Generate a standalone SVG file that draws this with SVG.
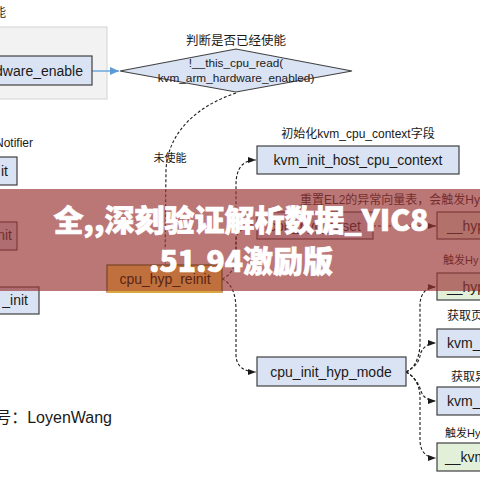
<svg xmlns="http://www.w3.org/2000/svg" width="480" height="480" viewBox="0 0 480 480">
<style>
.bx{fill:#dae3f3;stroke:#404040;stroke-width:1.2}
.gn{fill:#e2f0d9;stroke:#404040;stroke-width:1.2}
.t{font-family:"Liberation Sans","Noto Sans CJK SC",sans-serif;fill:#1a1a1a}
.n14{font-size:14px}
.lb{font-family:"Liberation Sans","Noto Sans CJK SC",sans-serif;fill:#1a1a1a;font-size:12px}
.dc{fill:none;stroke:#1a1a1a;stroke-width:1.1;stroke-dasharray:3 2}
.bn{font-family:"Noto Sans CJK SC",sans-serif;font-weight:900;font-size:30px;fill:#ffffff;stroke:#ffffff;stroke-width:0.7}
</style>
<defs>
<marker id="ah" viewBox="0 0 8 6" refX="8" refY="3" markerWidth="8" markerHeight="6" markerUnits="userSpaceOnUse" orient="auto">
<path d="M0,0 L8,3 L0,6 z" fill="#1a1a1a"/>
</marker>
<marker id="ab" viewBox="0 0 9 8" refX="9" refY="4" markerWidth="9" markerHeight="8" markerUnits="userSpaceOnUse" orient="auto">
<path d="M0,0 L9,4 L0,8 z" fill="#5b9bd5"/>
</marker>
</defs>
<rect width="480" height="480" fill="#ffffff"/>

<g id="container">
<rect x="-5" y="27" width="112" height="72" fill="#f2f2f2" stroke="#d9d9d9" stroke-width="1.2"/>
</g>
<text class="lb" x="6" y="17" text-anchor="end">能</text>

<g id="connectors">
<path d="M92,71 L119,71" stroke="#5b9bd5" stroke-width="1.3" fill="none" marker-end="url(#ab)"/>
<path class="dc" d="M236,93 C200,105 168,130 166,170 L165,264" marker-end="url(#ah)"/>
<path class="dc" d="M222,279 C232,275 236,265 236,250 L236,185 C236,168 243,160 256,160" marker-end="url(#ah)"/>
<path class="dc" d="M236,250 L236,240 C236,232 244,226 256,226" marker-end="url(#ah)"/>
<path class="dc" d="M222,279 C232,283 236,295 236,310 L236,355 C236,366 244,372 256,372" marker-end="url(#ah)"/>
<path class="dc" d="M373,226 L436,226" marker-end="url(#ah)"/>
<path class="dc" d="M406,372 C414,368 419,360 420,345 L420,305 C420,294 426,287 436,287" marker-end="url(#ah)"/>
<path class="dc" d="M406,372 C414,368 419,362 420,356 C421,349 427,343 436,343" marker-end="url(#ah)"/>
<path class="dc" d="M406,372 C414,376 419,384 421,391 C423,397 428,401 436,401" marker-end="url(#ah)"/>
<path class="dc" d="M406,372 C414,376 419,384 420,395 L420,440 C420,451 426,458 436,458" marker-end="url(#ah)"/>
</g>

<g id="n_hw_enable">
<rect class="bx" x="-5" y="56" width="97" height="29"/>
<text class="t n14" x="83" y="76" text-anchor="end">dware_enable</text>
</g>

<g id="n_diamond">
<text class="lb" x="236" y="45" text-anchor="middle" style="font-size:12.5px">判断是否已经使能</text>
<polygon points="120,71 236,49 352,71 236,92" fill="#dae3f3" stroke="#404040" stroke-width="1.2"/>
<text class="t" x="236" y="67" text-anchor="middle" style="font-size:11.8px">!__this_cpu_read(</text>
<text class="t" x="236" y="82" text-anchor="middle" style="font-size:11.8px">kvm_arm_hardware_enabled)</text>
</g>
<text class="lb" x="170" y="162" text-anchor="middle" style="font-size:11px">未使能</text>

<text class="lb" x="33" y="147" text-anchor="end">Notifier</text>
<g id="n_left1">
<rect class="bx" x="-5" y="157" width="22" height="28"/>
<text class="t n14" x="8" y="176" text-anchor="end">it</text>
</g>
<g id="n_left2">
<rect class="bx" x="-5" y="222" width="22" height="28"/>
<text class="t n14" x="12" y="240" text-anchor="end">nit</text>
</g>
<g id="n_left3">
<rect class="bx" x="-5" y="287" width="44" height="27"/>
<text class="t n14" x="28" y="305" text-anchor="end">_init</text>
</g>
<text class="t" x="112" y="423" text-anchor="end" style="font-size:16px">号：LoyenWang</text>

<text class="lb" x="358" y="138" text-anchor="middle">初始化kvm_cpu_context字段</text>
<g id="n_host_ctx">
<rect class="bx" x="257" y="146" width="202" height="28"/>
<text class="t n14" x="358" y="165" text-anchor="middle">kvm_init_host_cpu_context</text>
</g>

<text class="lb" x="300" y="204">重置EL2的异常向量表，会触发Hy</text>
<g id="n_hyp_reset">
<rect class="bx" x="257" y="212" width="116" height="27"/>
<text class="t n14" x="315" y="231" text-anchor="middle">cpu_hyp_reset</text>
</g>
<g id="n_r1">
<rect class="gn" x="437" y="212" width="60" height="27"/>
<text class="t n14" x="447" y="231">__hyp</text>
</g>
<text class="lb" x="443" y="264" style="font-size:11px">触发Hy</text>
<g id="n_r2">
<rect class="gn" x="437" y="273" width="60" height="27"/>
<text class="t n14" x="447" y="292">__hyp</text>
</g>
<text class="lb" x="447" y="320">获取页</text>
<g id="n_r3">
<rect class="bx" x="437" y="329" width="60" height="28"/>
<text class="t n14" x="447" y="348">kvm_</text>
</g>
<text class="lb" x="451" y="381">获取异</text>
<g id="n_r4">
<rect class="bx" x="437" y="387" width="60" height="28"/>
<text class="t n14" x="447" y="406">kvm_</text>
</g>
<text class="lb" x="445" y="437" style="font-size:11px">触发Hy</text>
<g id="n_r5">
<rect class="gn" x="437" y="443" width="60" height="28"/>
<text class="t n14" x="445" y="462">__kvm</text>
</g>

<g id="n_init_hyp_mode">
<rect class="bx" x="257" y="357" width="149" height="29"/>
<text class="t n14" x="331" y="377" text-anchor="middle">cpu_init_hyp_mode</text>
</g>

<rect id="banner" x="0" y="189" width="480" height="102" fill="#9b3535" fill-opacity="0.68"/>

<g id="n_hyp_reinit">
<rect x="107" y="265" width="115" height="27" fill="#c0703d" stroke="#7a4326" stroke-width="1.2"/>
<line x1="107" y1="292" x2="222" y2="292" stroke="#d9a640" stroke-width="2"/>
<text class="t n14" x="165" y="284" text-anchor="middle" style="fill:#5a2414">cpu_hyp_reinit</text>
</g>

<text class="bn" x="241" y="231" text-anchor="middle">全,,深刻验证解析数据_YIC8</text>
<text class="bn" x="241" y="272" text-anchor="middle">.51.94激励版</text>
</svg>
